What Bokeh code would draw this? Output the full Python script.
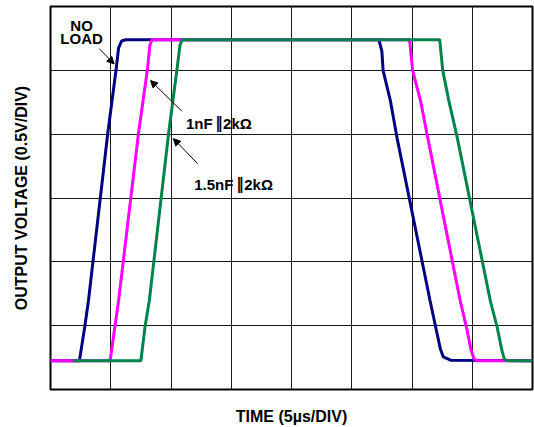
from bokeh.plotting import figure
from bokeh.models import Range1d, FixedTicker, Arrow, NormalHead, Label
from bokeh.embed import file_html
from bokeh.resources import INLINE

# ---- data (time in microseconds, output in volts) ----
x_grid = [5, 10, 15, 20, 25, 30, 35]
y_grid = [0.5, 1.0, 1.5, 2.0, 2.5]

noload_t = [0, 2.4, 2.85, 3.15, 4.75, 5.45, 5.65, 5.9, 6.25, 27.25, 27.5, 27.6,
            28.2, 28.75, 31.5, 31.95, 32.35, 32.6, 33.2, 40]
noload_v = [0.225, 0.225, 0.495, 0.695, 2.005, 2.51, 2.675, 2.73, 2.74, 2.74, 2.65,
            2.50, 2.265, 1.975, 0.695, 0.495, 0.32, 0.255, 0.23, 0.225]

nf1_t = [-0.1, 4.95, 5.35, 5.65, 7.3, 8.05, 8.25, 8.45, 29.8, 30.05, 30.7, 31.3,
         34.0, 34.5, 34.9, 35.15, 35.4, 40]
nf1_v = [0.225, 0.225, 0.495, 0.695, 2.005, 2.51, 2.70, 2.74, 2.74, 2.50, 2.265,
         1.975, 0.695, 0.495, 0.31, 0.24, 0.225, 0.225]

nf15_t = [1.85, 7.5, 7.85, 8.2, 9.8, 10.5, 10.75, 10.95, 32.3, 32.55, 33.05, 33.75,
          36.5, 37.05, 37.45, 37.65, 37.9, 40]
nf15_v = [0.225, 0.225, 0.495, 0.695, 2.005, 2.51, 2.70, 2.74, 2.74, 2.50, 2.265,
          1.975, 0.695, 0.495, 0.31, 0.24, 0.225, 0.225]

FONT = "Liberation Sans"

p = figure(width=534, height=427, output_backend="svg", toolbar_location=None,
           x_range=Range1d(0, 40), y_range=Range1d(0, 3),
           min_border_left=50, min_border_right=2, min_border_top=6,
           min_border_bottom=38)
p.background_fill_color = "white"
p.border_fill_color = "white"
p.outline_line_color = "black"
p.outline_line_width = 2

for ax in (p.xaxis, p.yaxis):
    ax.ticker = FixedTicker(ticks=[])
    ax.axis_line_color = None
    ax.major_tick_line_color = None
    ax.minor_tick_line_color = None
    ax.major_tick_out = 0
    ax.minor_tick_out = 0
    ax.major_label_standoff = 0
    ax.axis_label_text_font = FONT
    ax.axis_label_text_font_style = "bold"
    ax.axis_label_text_font_size = "16px"
    ax.axis_label_text_color = "black"

p.xaxis.axis_label = "TIME (5µs/DIV)"
p.yaxis.axis_label = "OUTPUT VOLTAGE (0.5V/DIV)"
p.xaxis.axis_label_standoff = 18
p.yaxis.axis_label_standoff = 21

p.xgrid.ticker = FixedTicker(ticks=x_grid)
p.ygrid.ticker = FixedTicker(ticks=y_grid)
for g in (p.xgrid, p.ygrid):
    g.grid_line_color = "black"
    g.grid_line_width = 1
    g.grid_line_alpha = 0.9

p.line(noload_t, noload_v, line_color="#000080", line_width=3)
p.line(nf1_t, nf1_v, line_color="#FF00FF", line_width=3)
p.line(nf15_t, nf15_v, line_color="#00844A", line_width=3)

# annotations
def arrow(x0, y0, x1, y1):
    p.add_layout(Arrow(x_start=x0, y_start=y0, x_end=x1, y_end=y1,
                       line_color="black", line_width=1,
                       end=NormalHead(size=7, fill_color="black", line_color="black")))

arrow(4.05, 2.67, 5.28, 2.55)
arrow(10.9, 2.18, 8.3, 2.42)
arrow(12.2, 1.77, 10.2, 1.965)

def label(x, y, t, align="left", font=FONT, size="15px"):
    p.add_layout(Label(x=x, y=y, text=t, text_font=font, text_font_style="bold",
                       text_font_size=size, text_color="black",
                       text_align=align, text_baseline="alphabetic"))

label(2.58, 2.853, "NO", "center")
label(2.58, 2.75, "LOAD", "center")

label(11.24, 2.086, "1nF")
label(13.98, 2.086, "‖", "center", "DejaVu Sans", "15px")
label(14.32, 2.086, "2kΩ")

label(11.93, 1.606, "1.5nF")
label(15.73, 1.606, "‖", "center", "DejaVu Sans", "15px")
label(16.08, 1.606, "2kΩ")

open("out.html", "w").write(file_html(p, INLINE))
